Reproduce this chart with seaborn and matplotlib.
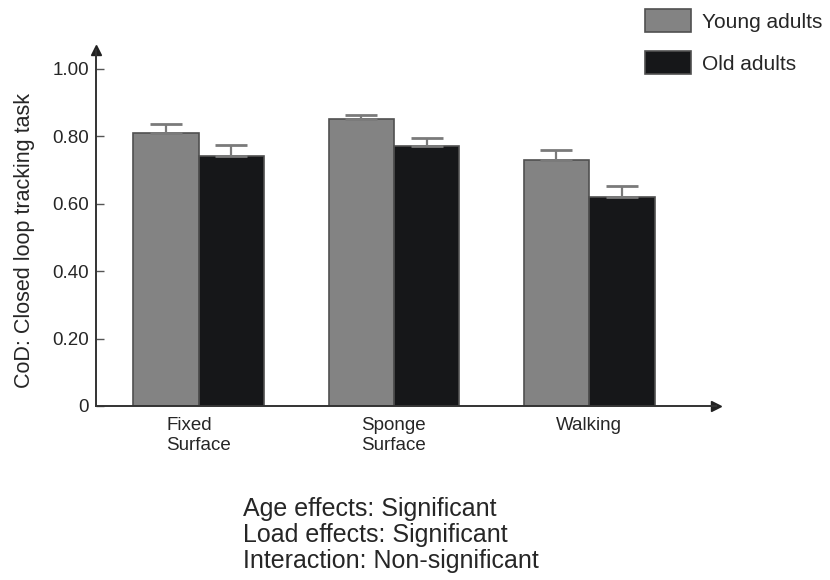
import matplotlib
matplotlib.use("Agg")
import matplotlib.pyplot as plt
import seaborn as sns
import pandas as pd
import numpy as np

# Coefficient of determination per condition and age group
conditions = ["Fixed\nSurface", "Sponge\nSurface", "Walking"]
groups = ["Young adults", "Old adults"]
young_mean = [0.81, 0.85, 0.73]
old_mean = [0.74, 0.77, 0.62]
young_err = [0.025, 0.012, 0.028]
old_err = [0.032, 0.024, 0.033]
ytick_vals = [0, 0.2, 0.4, 0.6, 0.8, 1.0]
ytick_labels = ["0", "0.20", "0.40", "0.60", "0.80", "1.00"]
stats_text = ["Age effects: Significant",
              "Load effects: Significant",
              "Interaction: Non-significant"]

df = pd.DataFrame({
    "condition": conditions * 2,
    "group": [groups[0]] * 3 + [groups[1]] * 3,
    "value": young_mean + old_mean,
})

sns.set_theme(style="white")
plt.rcParams["font.family"] = ["Liberation Sans", "DejaVu Sans"]
text_color = "#262626"

W, H = 830, 580
fig = plt.figure(figsize=(W / 100, H / 100), dpi=100)
ax = fig.add_axes([96 / W, (H - 406) / H, 620 / W, 356 / H])

palette = {"Young adults": "#838383", "Old adults": "#161719"}
sns.barplot(data=df, x="condition", y="value", hue="group", order=conditions,
            hue_order=groups, palette=palette, saturation=1, width=0.67,
            errorbar=None, edgecolor="#505050", linewidth=1.2, ax=ax)

# upward-only error bars on each bar
errs = [young_err, old_err]
for container, err in zip(ax.containers, errs):
    for bar, e in zip(container.patches, err):
        xc = bar.get_x() + bar.get_width() / 2
        h = bar.get_height()
        ax.errorbar(xc, h, yerr=[[0], [e]], fmt="none", ecolor="#7a7a7a",
                    elinewidth=1.6, capsize=11.5, capthick=2.0, zorder=1)

ax.set_xlim(-0.526, 2.65)
ax.set_ylim(0, 1.055)
ax.set_yticks(ytick_vals)
ax.set_yticklabels(ytick_labels)
ax.set_xlabel("")
ax.set_ylabel("CoD: Closed loop tracking task", fontsize=15.5, color=text_color)
ax.yaxis.label.set_va("center")
ax.yaxis.set_label_coords((25 - 96) / 620, (406 - 240) / 356)
ax.tick_params(axis="y", direction="in", length=6, width=1, color="#555555",
               labelsize=13.5, labelcolor=text_color, pad=5, left=True)
ax.tick_params(axis="x", length=0, labelsize=13.5, labelcolor=text_color, pad=8)
for lbl in ax.get_xticklabels():
    lbl.set_multialignment("left")
    lbl.set_linespacing(1.2)

for side in ["top", "right"]:
    ax.spines[side].set_visible(False)
for side in ["left", "bottom"]:
    ax.spines[side].set_color("#333333")
    ax.spines[side].set_linewidth(1.4)

# arrow heads at the ends of the axes
ax.plot(0, 1, marker="^", color="#222222", markersize=7, transform=ax.transAxes,
        clip_on=False)
ax.plot(1, 0, marker=">", color="#222222", markersize=7, transform=ax.transAxes,
        clip_on=False)

handles, labels = ax.get_legend_handles_labels()
ax.legend(handles, labels, loc="upper left",
          bbox_to_anchor=(645 / W, 1 - 9 / H), bbox_transform=fig.transFigure,
          frameon=False, fontsize=15, handlelength=2.2, handleheight=1.35,
          labelspacing=0.89, handletextpad=0.55, borderpad=0, borderaxespad=0,
          labelcolor=text_color)

fig.text(243 / W, 1 - 497 / H, "\n".join(stats_text), fontsize=18,
         color=text_color, ha="left", va="top", linespacing=1.1)

fig.savefig("out.png", dpi=100)
